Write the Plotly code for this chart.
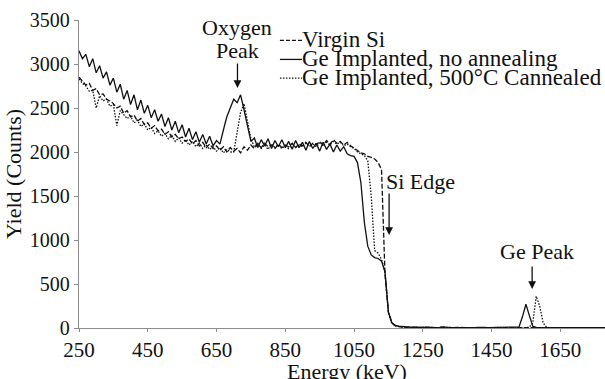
import numpy as np
import plotly.graph_objects as go

# Energy channels (keV), 10 keV step
energy = np.arange(250, 1790, 10)

virgin_si = [
    2850, 2800, 2760, 2780, 2700, 2720, 2650, 2660, 2600, 2580,
    2550, 2500, 2520, 2440, 2470, 2400, 2420, 2350, 2380, 2310,
    2330, 2270, 2300, 2240, 2260, 2200, 2230, 2170, 2200, 2150,
    2170, 2120, 2150, 2090, 2130, 2070, 2110, 2050, 2090, 2040,
    2070, 2020, 2060, 2000, 2050, 2010, 2040, 1990, 2060, 2020,
    2080, 2040, 2090, 2050, 2100, 2060, 2080, 2040, 2090, 2050,
    2080, 2060, 2100, 2050, 2090, 2070, 2110, 2060, 2100, 2080,
    2120, 2080, 2130, 2090, 2140, 2100, 2120, 2080, 2110, 2070,
    2040, 2010, 1990, 1980, 1950, 1940, 1920, 1880, 1800, 620,
    180, 60, 25, 15, 10, 8, 10, 6, 8, 5,
    7, 5, 8, 6, 4, 7, 5, 6, 4, 5,
    6, 4, 5, 3, 6, 4, 5, 4, 3, 5,
    4, 5, 3, 4, 5, 3, 4, 5, 4, 3,
    4, 3, 5, 4, 3, 4, 3, 5, 4, 3,
    4, 3, 4, 3, 5, 3, 4, 3, 4, 3,
    3, 4, 3, 3,
]

no_annealing = [
    3150, 3060, 3110, 2970, 3060, 2900, 2980, 2840, 2910, 2760,
    2840, 2680, 2770, 2600, 2700, 2540, 2650, 2480, 2590, 2440,
    2530, 2390, 2480, 2350, 2430, 2290, 2390, 2250, 2350, 2220,
    2310, 2170, 2270, 2140, 2230, 2110, 2200, 2090, 2180, 2070,
    2130, 2090, 2250, 2400, 2500, 2600, 2560, 2650, 2480, 2300,
    2120, 2160, 2050, 2140, 2070, 2150, 2040, 2130, 2060, 2140,
    2050, 2120, 2030, 2130, 2050, 2110, 2020, 2120, 2040, 2100,
    2010, 2110, 2030, 2090, 2000, 2080, 2010, 2060, 1980, 1960,
    1950, 1880, 1650, 1200, 930, 830, 800, 790, 760, 640,
    180, 60, 30, 20, 15, 10, 12, 8, 10, 6,
    8, 10, 6, 9, 5, 8, 12, 6, 5, 7,
    6, 8, 5, 7, 6, 5, 8, 4, 6, 5,
    6, 4, 5, 7, 5, 6, 4, 8, 12, 130,
    270, 140, 20, 6, 5, 4, 6, 5, 4, 5,
    4, 5, 3, 5, 4, 3, 5, 4, 3, 4,
    3, 4, 3, 4,
]

annealed_500c = [
    2830, 2780, 2750, 2690, 2700, 2500, 2640, 2580, 2600, 2520,
    2540, 2300, 2470, 2420, 2380, 2410, 2330, 2360, 2290, 2320,
    2250, 2280, 2210, 2240, 2180, 2210, 2150, 2190, 2120, 2160,
    2100, 2140, 2080, 2120, 2060, 2100, 2040, 2080, 2030, 2060,
    2010, 2050, 1990, 2030, 2000, 2000, 2250, 2450, 2550, 2350,
    2150, 2060, 2100, 2040, 2080, 2030, 2090, 2050, 2080, 2040,
    2070, 2040, 2090, 2050, 2080, 2060, 2100, 2070, 2090, 2060,
    2100, 2070, 2110, 2080, 2120, 2090, 2110, 2070, 2090, 2060,
    2040, 2000, 1980, 1960, 1900, 1500, 880, 850, 780, 640,
    170, 50, 25, 15, 10, 8, 6, 9, 5, 7,
    6, 8, 5, 7, 4, 6, 8, 5, 6, 4,
    5, 7, 4, 6, 5, 4, 6, 5, 4, 6,
    5, 4, 6, 5, 4, 5, 3, 5, 4, 6,
    5, 8, 60, 360, 250, 60, 8, 4, 5, 4,
    4, 3, 5, 4, 3, 4, 5, 3, 4, 3,
    4, 3, 4, 3,
]

series_names = [
    "Virgin Si",
    "Ge Implanted, no annealing",
    "Ge Implanted, 500\u00b0C Cannealed",
]
series_dash = ["5px,2px", "solid", "1.5px,1.5px"]
legend_dash = ["4px,2px", "solid", "1.5px,1.5px"]

x_ticks = [250, 450, 650, 850, 1050, 1250, 1450, 1650]
y_ticks = [0, 500, 1000, 1500, 2000, 2500, 3000, 3500]

# annotation labels: (text, energy, yield)
labels = [
    ("Oxygen", 711, 3420),
    ("Peak", 711, 3148),
    ("Si Edge", 1242, 1670),
    ("Ge Peak", 1582, 864),
]
# arrows: (energy, head yield, tail yield)
arrows = [
    (711, 2727, 3023),
    (1152, 1057, 1545),
    (1568, 443, 716),
]

SERIF = "Liberation Serif"
INK = "#111111"

fig = go.Figure()
for name, ys, dash in zip(series_names, [virgin_si, no_annealing, annealed_500c], series_dash):
    fig.add_trace(go.Scatter(
        x=energy, y=ys, mode="lines", name=name,
        line=dict(color=INK, width=1.3, dash=dash),
        showlegend=False,
    ))

annotations = []
for text, ex, yy in labels:
    annotations.append(dict(x=ex, y=yy, xref="x", yref="y", text=text, showarrow=False,
                            font=dict(family=SERIF, size=22, color=INK),
                            xanchor="center", yanchor="middle"))
for ex, yh, yt in arrows:
    annotations.append(dict(x=ex, y=yh, ax=ex, ay=yt, xref="x", yref="y", axref="x", ayref="y",
                            text="", showarrow=True, arrowhead=2, arrowsize=1.2,
                            arrowwidth=1.3, arrowcolor=INK))

# x-axis title, placed low so it is partly cut by the page edge as in the reference
annotations.append(dict(x=0.51, y=-0.142, xref="paper", yref="paper", text="Energy (keV)",
                        showarrow=False, xanchor="center", yanchor="middle",
                        font=dict(family=SERIF, size=22, color=INK)))

# manual legend (layout decoration)
leg_rows = [0.937, 0.875, 0.814]
shapes = []
for name, dash, ry in zip(series_names, legend_dash, leg_rows):
    annotations.append(dict(x=0.421, y=ry, xref="paper", yref="paper", text=name,
                            showarrow=False, xanchor="left", yanchor="middle",
                            font=dict(family=SERIF, size=23, color=INK)))
    shapes.append(dict(type="line", xref="paper", yref="paper", x0=0.382, x1=0.424,
                       y0=ry - 0.003, y1=ry - 0.003, line=dict(color=INK, width=1.3, dash=dash)))

fig.update_layout(
    width=605, height=379,
    margin=dict(l=79, r=0, t=20, b=51),
    paper_bgcolor="white", plot_bgcolor="white",
    annotations=annotations, shapes=shapes,
    showlegend=False,
)
fig.update_xaxes(
    range=[250, 1780], tickvals=x_ticks, ticktext=[str(v) for v in x_ticks],
    showline=True, linecolor="#8c8c8c", linewidth=1.3,
    ticks="outside", ticklen=3, tickcolor="#8c8c8c", tickwidth=1.3,
    showgrid=False, zeroline=False, automargin=False,
    tickfont=dict(family=SERIF, size=21, color=INK),
)
fig.update_yaxes(
    range=[0, 3500], tickvals=y_ticks,
    showline=True, linecolor="#8c8c8c", linewidth=1.3,
    ticks="outside", ticklen=4, tickcolor="#8c8c8c", tickwidth=1.3,
    showgrid=False, zeroline=False, automargin=False,
    tickfont=dict(family=SERIF, size=20, color=INK),
    title=dict(text="Yield (Counts)", font=dict(family=SERIF, size=22, color=INK), standoff=2),
)

fig.write_html("out.html")
